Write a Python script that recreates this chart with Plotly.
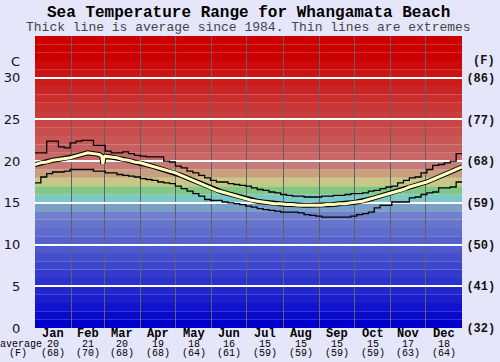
import plotly.graph_objects as go

# ---------------- data ----------------
months = ["Jan", "Feb", "Mar", "Apr", "May", "Jun", "Jul", "Aug", "Sep", "Oct", "Nov", "Dec"]
month_start = [0, 31, 59, 90, 120, 151, 181, 212, 243, 273, 304, 334, 365]
avg_c_label = ["20", "21", "20", "19", "18", "16", "15", "15", "15", "15", "17", "18"]
avg_f_label = ["(68)", "(70)", "(68)", "(68)", "(64)", "(61)", "(59)", "(59)", "(59)", "(59)", "(63)", "(64)"]
c_ticks = [0, 5, 10, 15, 20, 25, 30]
f_ticks = ["(32)", "(41)", "(50)", "(59)", "(68)", "(77)", "(86)"]

days = list(range(0, 366, 5))
avg_days = [0, 5, 10, 15, 20, 25, 30, 35, 40, 45, 50, 55, 57, 58, 59, 60, 65, 70, 75, 80, 85, 90,
            95, 100, 105, 110, 115, 120, 125, 130, 135, 140, 145, 150, 155, 160, 165, 170, 175,
            180, 185, 190, 195, 200, 205, 210, 215, 220, 225, 230, 235, 240, 245, 250, 255, 260,
            265, 270, 275, 280, 285, 290, 295, 300, 305, 310, 315, 320, 325, 330, 335, 340, 345,
            350, 355, 360, 365]
avg_temp = [19.6, 19.8, 19.9, 20.1, 20.2, 20.3, 20.4, 20.6, 20.8, 21.0, 20.9, 20.8, 20.6, 19.7, 20.5,
            20.6, 20.5, 20.4, 20.2, 20.1, 19.9, 19.8,
            19.6, 19.4, 19.2, 19.0, 18.8, 18.6, 18.3, 18.0, 17.7, 17.4, 17.1, 16.8, 16.5, 16.3,
            16.1, 15.9, 15.7, 15.5, 15.3, 15.2, 15.1, 15.0, 14.9, 14.9, 14.8, 14.8, 14.7, 14.7,
            14.7, 14.7, 14.7, 14.8, 14.8, 14.9, 14.9, 15.0, 15.1, 15.2, 15.4, 15.6, 15.8, 16.0,
            16.2, 16.4, 16.6, 16.9, 17.1, 17.3, 17.5, 17.8, 18.1, 18.4, 18.7, 19.0, 19.3]
max_temp = [21.0, 21.0, 22.4, 22.4, 21.7, 21.6, 22.2, 22.4, 22.5, 22.5, 21.9, 21.9, 21.2, 21.0,
            21.0, 21.1, 20.9, 20.7, 20.6, 20.5, 20.5, 20.5, 20.0, 19.9, 19.4, 19.2, 18.8, 18.6,
            18.3, 18.0, 17.7, 17.5, 17.5, 17.3, 17.2, 17.1, 17.0, 16.8, 16.6, 16.5, 16.3, 16.2,
            16.0, 15.9, 15.8, 15.8, 15.7, 15.7, 15.7, 15.8, 15.8, 15.9, 15.9, 16.0, 16.1, 16.1,
            16.2, 16.4, 16.5, 16.7, 16.9, 17.0, 17.4, 17.7, 18.0, 18.1, 18.6, 19.0, 19.5, 19.6,
            19.8, 20.0, 20.9, 20.9]
min_temp = [17.4, 18.1, 18.5, 18.7, 18.7, 18.8, 19.0, 19.0, 19.0, 19.0, 18.8, 18.8, 18.6, 18.6,
            18.4, 18.3, 18.2, 18.1, 17.9, 17.8, 17.7, 17.5, 17.4, 17.3, 17.0, 16.7, 16.4, 16.1,
            15.8, 15.4, 15.3, 15.3, 15.1, 15.0, 14.9, 14.8, 14.6, 14.5, 14.3, 14.2, 14.1, 14.0,
            13.9, 13.9, 13.9, 13.8, 13.6, 13.5, 13.4, 13.3, 13.3, 13.3, 13.3, 13.3, 13.4, 13.6,
            13.7, 13.9, 14.4, 14.7, 14.7, 15.1, 15.1, 15.1, 15.6, 15.7, 16.0, 16.2, 16.3, 16.8,
            16.8, 16.9, 17.5, 17.5]

# ---------------- styling ----------------
BG = "#e6e6fa"
MONO = "Liberation Mono, Courier New, monospace"
SANS = "DejaVu Sans, Verdana, sans-serif"


def band_color(t):
    if t <= 13:
        r = round(112 * t / 13)
        g = round(128 * t / 13)
        return f"rgb({r},{g},204)"
    fixed = {14: (122, 160, 200), 15: (124, 200, 200), 16: (128, 200, 132),
             17: (200, 200, 134), 18: (200, 160, 126), 19: (200, 124, 120)}
    if t in fixed:
        return "rgb(%d,%d,%d)" % fixed[t]
    if t <= 31:
        f = (t - 20) / 11
        r = round(200 + 4 * f)
        g = round(104 + (10 - 104) * f)
        return f"rgb({r},{g},{g})"
    return "rgb(204,0,0)"


shapes = []
for t in range(35):
    shapes.append(dict(type="rect", xref="paper", x0=0, x1=1, yref="y", y0=t, y1=t + 1,
                       fillcolor=band_color(t), line=dict(width=0), layer="below"))

fig = go.Figure()
fig.add_trace(go.Scatter(x=days, y=max_temp, mode="lines", line=dict(color="black", width=1.3, shape="hv"),
                         hoverinfo="skip", showlegend=False))
fig.add_trace(go.Scatter(x=days, y=min_temp, mode="lines", line=dict(color="black", width=1.3, shape="hv"),
                         hoverinfo="skip", showlegend=False))
fig.add_trace(go.Scatter(x=avg_days, y=avg_temp, mode="lines", line=dict(color="black", width=5),
                         hoverinfo="skip", showlegend=False))
fig.add_trace(go.Scatter(x=avg_days, y=avg_temp, mode="lines", line=dict(color="#ffffc0", width=3),
                         hoverinfo="skip", showlegend=False))
# invisible trace to activate the right axis
fig.add_trace(go.Scatter(x=[0], y=[0], yaxis="y2", mode="markers", marker=dict(opacity=0),
                         hoverinfo="skip", showlegend=False))

mids = [(month_start[i] + month_start[i + 1]) / 2 for i in range(12)]

annotations = [
    dict(text="<b>Sea Temperature Range for Whangamata Beach</b>", xref="paper", yref="paper",
         x=0.5, y=1 + (36 - 13) / 292, xanchor="center", yanchor="middle", showarrow=False,
         font=dict(family=MONO, size=16, color="black")),
    dict(text="Thick line is average since 1984. Thin lines are extremes", xref="paper", yref="paper",
         x=0.5, y=1 + (36 - 28) / 292, xanchor="center", yanchor="middle", showarrow=False,
         font=dict(family=MONO, size=13, color="#444444")),
    dict(text="C", xref="paper", yref="y", x=0, y=32, xanchor="right", yanchor="middle", xshift=-13,
         showarrow=False, font=dict(family=SANS, size=13, color="#111111")),
    dict(text="<b>(F)</b>", xref="paper", yref="y", x=1, y=32, xanchor="left", yanchor="middle", xshift=9,
         showarrow=False, font=dict(family=MONO, size=12, color="#111111")),
    dict(text="average", xref="paper", yref="paper", x=0, y=-(344 - 328) / 292, xanchor="right",
         yanchor="middle", xshift=9, showarrow=False, font=dict(family=MONO, size=10, color="black")),
    dict(text="(F)", xref="paper", yref="paper", x=0, y=-(353 - 328) / 292, xanchor="right",
         yanchor="middle", xshift=-6, showarrow=False, font=dict(family=MONO, size=10, color="black")),
]
for i in range(12):
    annotations.append(dict(text="<b>" + months[i] + "</b>", xref="x", yref="paper", x=mids[i],
                            y=-(334 - 328) / 292, xanchor="center", yanchor="middle", showarrow=False,
                            font=dict(family=MONO, size=12, color="black")))
    annotations.append(dict(text=avg_c_label[i], xref="x", yref="paper", x=mids[i],
                            y=-(344 - 328) / 292, xanchor="center", yanchor="middle", showarrow=False,
                            font=dict(family=MONO, size=10, color="black")))
    annotations.append(dict(text=avg_f_label[i], xref="x", yref="paper", x=mids[i],
                            y=-(353 - 328) / 292, xanchor="center", yanchor="middle", showarrow=False,
                            font=dict(family=MONO, size=10, color="black")))

fig.update_layout(
    width=500, height=362,
    margin=dict(l=35, r=38, t=36, b=34, pad=0, autoexpand=False),
    paper_bgcolor=BG, plot_bgcolor=BG,
    shapes=shapes,
    annotations=annotations,
    xaxis=dict(range=[0, 365], tickmode="array", tickvals=month_start, showticklabels=False,
               showgrid=True, gridcolor="#626262", gridwidth=1, zeroline=False,
               showline=False, ticks="", fixedrange=True, automargin=False),
    yaxis=dict(range=[0, 35], tickmode="array", tickvals=c_ticks, ticktext=[str(v) for v in c_ticks],
               showgrid=True, gridcolor="white", gridwidth=1.5, zeroline=False, showline=False,
               ticks="outside", ticklen=11, tickcolor=BG, automargin=False,
               tickfont=dict(family=SANS, size=13, color="#111111")),
    yaxis2=dict(range=[0, 35], overlaying="y", side="right", tickmode="array", tickvals=c_ticks,
                ticktext=f_ticks, showgrid=False, zeroline=False, showline=False,
                ticks="outside", ticklen=1, tickcolor=BG, automargin=False,
                tickfont=dict(family=MONO, size=12, color="#111111", weight="bold")),
)

fig.write_html("out.html", config={"displayModeBar": False},
               post_script="document.body.style.margin='0';document.body.style.overflow='hidden';")
